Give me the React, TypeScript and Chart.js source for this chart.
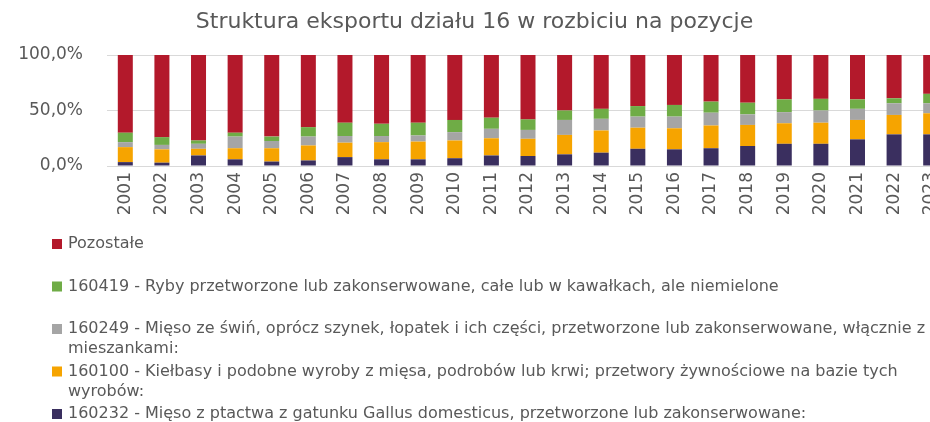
import React, { useEffect, useRef } from "react";
import { Chart, registerables } from "chart.js";

Chart.register(...registerables);

const years = [
  "2001", "2002", "2003", "2004", "2005", "2006", "2007", "2008", "2009", "2010", "2011", "2012",
  "2013", "2014", "2015", "2016", "2017", "2018", "2019", "2020", "2021", "2022", "2023",
];

// shares in % (bottom to top of each stack)
const s160232 = [3.5, 3, 9.5, 6, 4, 5, 8, 6, 6, 7, 9.5, 9, 10.5, 12, 15.5, 15, 16, 18, 20, 20, 24, 28.5, 28.5];
const s160100 = [13.5, 12, 6, 10, 12, 13.5, 13, 15.5, 16, 16, 15.5, 15.5, 17.5, 20, 19, 19, 20.5, 19, 18.5, 19, 17.5, 17.5, 19];
const s160249 = [4.5, 4, 4.5, 10.5, 6.5, 8, 6, 5.5, 5.5, 7.5, 8.5, 8, 13.5, 10.5, 10, 10.5, 11.5, 9.5, 10, 11, 10, 10.5, 9];
const s160419 = [8.5, 7, 3, 3.5, 4, 8.5, 12, 11, 11.5, 11, 10, 9.5, 8.5, 9, 9.5, 10.5, 10, 10.5, 11.5, 10.5, 8.5, 4.5, 8.5];
const sPozostale = [70, 74, 77, 70, 73.5, 65, 61, 62, 61, 58.5, 56.5, 58, 50, 48.5, 46, 45, 42, 43, 40, 39.5, 40, 39, 35];

const yTicks = [0, 50, 100];

const name160232 = ["160232 - Mięso z ptactwa z gatunku Gallus domesticus, przetworzone lub zakonserwowane:"];
const name160100 = [
  "160100 - Kiełbasy i podobne wyroby z mięsa, podrobów lub krwi; przetwory żywnościowe na bazie tych",
  "wyrobów:",
];
const name160249 = [
  "160249 - Mięso ze świń, oprócz szynek, łopatek i ich części, przetworzone lub zakonserwowane, włącznie z",
  "mieszankami:",
];
const name160419 = ["160419 - Ryby przetworzone lub zakonserwowane, całe lub w kawałkach, ale niemielone"];
const namePozostale = ["Pozostałe"];

const TEXT = "#595959";
const FONT = "'DejaVu Sans', sans-serif";

const legendPlugin = {
  id: "stackLegend",
  afterDraw(chart: any) {
    const ctx = chart.ctx as CanvasRenderingContext2D;
    const xScale = chart.scales.x;
    const items = [...chart.data.datasets].reverse();
    const startY = xScale.bottom + 18;
    const pitch = 42.5;
    const lineGap = 20;
    ctx.save();
    ctx.font = `16px ${FONT}`;
    ctx.textBaseline = "middle";
    ctx.textAlign = "left";
    items.forEach((ds: any, i: number) => {
      const y = startY + i * pitch;
      ctx.fillStyle = ds.backgroundColor;
      ctx.fillRect(52, y - 5, 10, 10);
      ctx.fillStyle = TEXT;
      (ds.lines as string[]).forEach((line, j) => {
        ctx.fillText(line, 68, y + j * lineGap);
      });
    });
    ctx.restore();
  },
};

export default function App() {
  const ref = useRef<HTMLCanvasElement | null>(null);

  useEffect(() => {
    if (!ref.current) return;
    const mk = (lines: string[], data: number[], color: string) => ({
      label: lines.join(" "),
      lines,
      data,
      backgroundColor: color,
      borderWidth: 0,
      barPercentage: 0.41,
      categoryPercentage: 1,
    });
    const chart = new Chart(ref.current, {
      type: "bar",
      data: {
        labels: years,
        datasets: [
          mk(name160232, s160232, "#3A2F5F"),
          mk(name160100, s160100, "#F6A400"),
          mk(name160249, s160249, "#A5A5A5"),
          mk(name160419, s160419, "#6FAC46"),
          mk(namePozostale, sPozostale, "#B3192B"),
        ] as any,
      },
      options: {
        animation: false,
        responsive: false,
        layout: { padding: { left: 0, right: 23, top: 0, bottom: 214 } },
        plugins: {
          legend: { display: false },
          tooltip: { enabled: false },
          title: {
            display: true,
            text: "Struktura eksportu działu 16 w rozbiciu na pozycje",
            color: TEXT,
            font: { family: FONT, size: 22, weight: "normal" },
            padding: { top: 9, bottom: 19.6 },
          },
        },
        scales: {
          x: {
            stacked: true,
            grid: { display: false, drawTicks: false },
            border: { display: false },
            ticks: {
              color: TEXT,
              font: { family: FONT, size: 17 },
              minRotation: 90,
              maxRotation: 90,
              padding: 6,
              autoSkip: false,
            },
            afterFit: (s: any) => {
              s.height = 60;
            },
          },
          y: {
            stacked: true,
            min: 0,
            max: 100,
            afterBuildTicks: (s: any) => {
              s.ticks = yTicks.map((v) => ({ value: v }));
            },
            grid: { color: "#D9D9D9", drawTicks: false, lineWidth: 1 },
            border: { display: false },
            ticks: {
              color: TEXT,
              font: { family: FONT, size: 17 },
              padding: 24,
              callback: (v: any) => Number(v).toFixed(1).replace(".", ",") + "%",
            },
            afterFit: (s: any) => {
              s.width = 107;
            },
          },
        },
      },
      plugins: [legendPlugin],
    });
    return () => chart.destroy();
  }, []);

  return (
    <div style={{ position: "fixed", left: 0, top: 0, width: 930, height: 422, overflow: "hidden", background: "#fff" }}>
      <canvas ref={ref} width={972} height={440} style={{ width: 972, height: 440, display: "block" }} />
    </div>
  );
}
